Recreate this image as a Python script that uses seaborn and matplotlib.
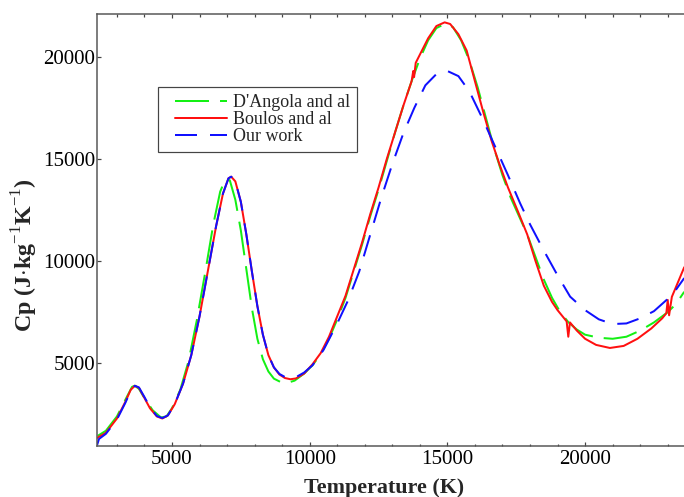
import numpy as np
import pandas as pd
import matplotlib
matplotlib.use("Agg")
import matplotlib.pyplot as plt
from matplotlib.legend_handler import HandlerLine2D
from matplotlib.lines import Line2D
import seaborn as sns

# ---------------- data ----------------
series_names = ["D'Angola and al", "Boulos and al", "Our work"]

dangola_T = [2300, 2600, 3000, 3300, 3550, 3650, 3800, 4000, 4300, 4600, 4800, 5000, 5300, 5600,
             5900, 6200, 6500, 6750, 6950, 7100, 7300, 7500, 7700, 7900, 8100, 8300, 8500, 8700,
             8950, 9200, 9450, 9800, 10100, 10400, 10700, 11000, 11300, 11600, 11900, 12200, 12500,
             12800, 13100, 13400, 13700, 14000, 14300, 14600, 14900, 15200, 15500, 15800, 16100,
             16400, 16700, 17000, 17300, 17600, 17900, 18200, 18500, 18800, 19100, 19400, 19700,
             20000, 20500, 21000, 21500, 22000, 22500, 23000, 23300, 23600]
dangola_cp = [1450, 1700, 2400, 3200, 3850, 3900, 3750, 3300, 2700, 2350, 2400, 2800, 3700, 5100,
              7100, 9400, 11800, 13400, 14050, 13950, 13000, 11500, 9600, 7700, 6200, 5200, 4600, 4250,
              4080, 4050, 4150, 4500, 4900, 5450, 6200, 7150, 8200, 9500, 10800, 12200, 13500,
              14900, 16300, 17600, 18800, 19900, 20800, 21400, 21600, 21450, 20800, 19800, 18500,
              17000, 15500, 14200, 13100, 12200, 11300, 10200, 9100, 8200, 7500, 7000, 6650,
              6400, 6250, 6200, 6300, 6600, 7000, 7500, 7900, 8500]

boulos_T = [2280, 2600, 3000, 3300, 3500, 3650, 3800, 4000, 4200, 4450, 4650, 4850, 5100, 5400,
            5700, 6000, 6300, 6600, 6850, 7050, 7150, 7300, 7500, 7700, 7900, 8100, 8300, 8500,
            8700, 8900, 9100, 9300, 9500, 9800, 10100, 10400, 10700, 11000, 11300, 11600, 11900,
            12200, 12500, 12800, 13100, 13400, 13700, 13760, 13790, 13850, 14000, 14300, 14600,
            14900, 15100, 15400, 15700, 16000, 16300, 16600, 16900, 17200, 17600, 17900, 18200,
            18500, 18800, 19000, 19330, 19390, 19450, 19700, 20000, 20400, 20900, 21400, 21900,
            22400, 22800, 22950, 23000, 23050, 23150, 23600]
boulos_cp = [1350, 1600, 2300, 3100, 3700, 3900, 3800, 3300, 2800, 2400, 2300, 2450, 3000, 4000,
             5400, 7300, 9500, 11700, 13300, 14050, 14130, 13900, 12900, 11300, 9500, 7800, 6400, 5400,
             4800, 4450, 4280, 4220, 4260, 4500, 4950, 5500, 6300, 7300, 8300, 9600, 10900,
             12300, 13600, 15000, 16300, 17600, 18800, 19300, 19000, 19700, 20100, 20900, 21500,
             21680, 21600, 21100, 20300, 18800, 17300, 15900, 14700, 13600, 12300, 11300, 10000,
             8800, 8000, 7600, 7050, 6300, 7000, 6600, 6200, 5900, 5750, 5850, 6200,
             6700, 7200, 7450, 8100, 7350, 8250, 9700]

ours_T = [2280, 2350, 2600, 3000, 3300, 3500, 3650, 3800, 4000, 4200, 4450, 4650, 4850, 5100,
          5400, 5700, 6000, 6300, 6600, 6850, 7050, 7150, 7300, 7500, 7700, 7900, 8100, 8300,
          8500, 8700, 8900, 9100, 9300, 9500, 9800, 10100, 10500, 11000, 11400, 11800, 12200,
          12600, 13000, 13400, 13800, 14200, 14600, 15000, 15400, 15800, 16300, 16800, 17200,
          17640, 18000, 18487, 19000, 19457, 20000, 20500, 21000, 21500, 22000, 22500, 23000,
          23300, 23600]
ours_cp = [1000, 1300, 1550, 2250, 3050, 3650, 3900, 3820, 3350, 2850, 2420, 2320, 2450, 3000,
           4000, 5400, 7300, 9500, 11700, 13300, 14050, 14130, 13900, 12900, 11300, 9500, 7800, 6400,
           5400, 4800, 4480, 4330, 4280, 4320, 4550, 4900, 5650, 6950, 8100, 9500, 11300,
           13100, 14750, 16250, 17500, 18600, 19150, 19300, 19050, 18300, 16900, 15400, 14200,
           12830, 11800, 10550, 9300, 8260, 7600, 7150, 6920, 6950, 7200, 7550, 8150,
           8600, 9170]

x_ticks = [5000, 10000, 15000, 20000]
y_ticks = [5000, 10000, 15000, 20000]

# ---------------- figure ----------------
sns.set_style("ticks")
plt.rcParams['font.family'] = ['Liberation Serif', 'DejaVu Serif']
plt.rcParams['mathtext.fontset'] = 'custom'
plt.rcParams['mathtext.rm'] = 'Liberation Serif'
plt.rcParams['mathtext.bf'] = 'Liberation Serif:bold'

W, H = 684, 497
fig = plt.figure(figsize=(W / 72, H / 72), dpi=72)
left, right, top, bottom = 97, 690, 14.3, 445.7
ax = fig.add_axes([left / W, 1 - bottom / H, (right - left) / W, (bottom - top) / H])

px_per_k = 27.54  # px per 1000 K
xmin = 5000 - (172 - left) / px_per_k * 1000
xmax = 5000 + (right - 172) / px_per_k * 1000
py_per_k = 20.44
ymin = 5000 - (bottom - 363.3) / py_per_k * 1000
ymax = 20000 + (56.7 - top) / py_per_k * 1000

green, red, blue = "#14f014", "#ff1010", "#1010ff"

sns.lineplot(x=dangola_T, y=dangola_cp, ax=ax, color=green, lw=2, sort=False, estimator=None,
             label=series_names[0], linestyle=(0, (17, 5.5)))
sns.lineplot(x=boulos_T, y=boulos_cp, ax=ax, color=red, lw=2, sort=False, estimator=None,
             label=series_names[1])
sns.lineplot(x=ours_T, y=ours_cp, ax=ax, color=blue, lw=2, sort=False, estimator=None,
             label=series_names[2], linestyle=(0, (11, 6.5)))

ax.set_xlim(xmin, xmax)
ax.set_ylim(ymin, ymax)
ax.set_xticks(x_ticks)
ax.set_yticks(y_ticks)
ax.set_xticks(np.arange(3000, 24000, 1000), minor=True)
ax.tick_params(which='both', direction='in', top=True, right=True, colors='#444444',
               labelcolor='black', labelsize=21, width=1.2)
ax.tick_params(which='major', length=4, pad=4)
ax.tick_params(which='minor', length=2.5)
ax.tick_params(axis='y', pad=2)
for s in ax.spines.values():
    s.set_color('#555555')
    s.set_linewidth(1.5)

ax.set_xlabel("Temperature (K)", fontsize=22, fontweight='bold')
ax.set_ylabel(r"Cp (J$\cdot$kg$^{-1}$K$^{-1}$)", fontsize=24, fontweight='bold')
ax.xaxis.set_label_coords((384 - left) / (right - left), -0.075)
ax.yaxis.set_label_coords((25 - left) / (right - left), (bottom - 255) / (bottom - top))
ax.yaxis.label.set_verticalalignment('center')

fs = 18
hm = {Line2D: HandlerLine2D(xpad=10 / fs)}
leg = ax.legend(loc='upper left', bbox_to_anchor=(158 / W, 1 - 87 / H),
                bbox_transform=fig.transFigure, fontsize=fs, frameon=True, fancybox=False,
                borderaxespad=0, borderpad=0.4, handlelength=(52 + 10) / fs, handletextpad=0.33,
                labelspacing=0.0, handler_map=hm)
leg.get_frame().set_edgecolor('#444444')
leg.get_frame().set_linewidth(1.2)
leg.get_frame().set_alpha(1)

fig.savefig("out.png", dpi=72)
